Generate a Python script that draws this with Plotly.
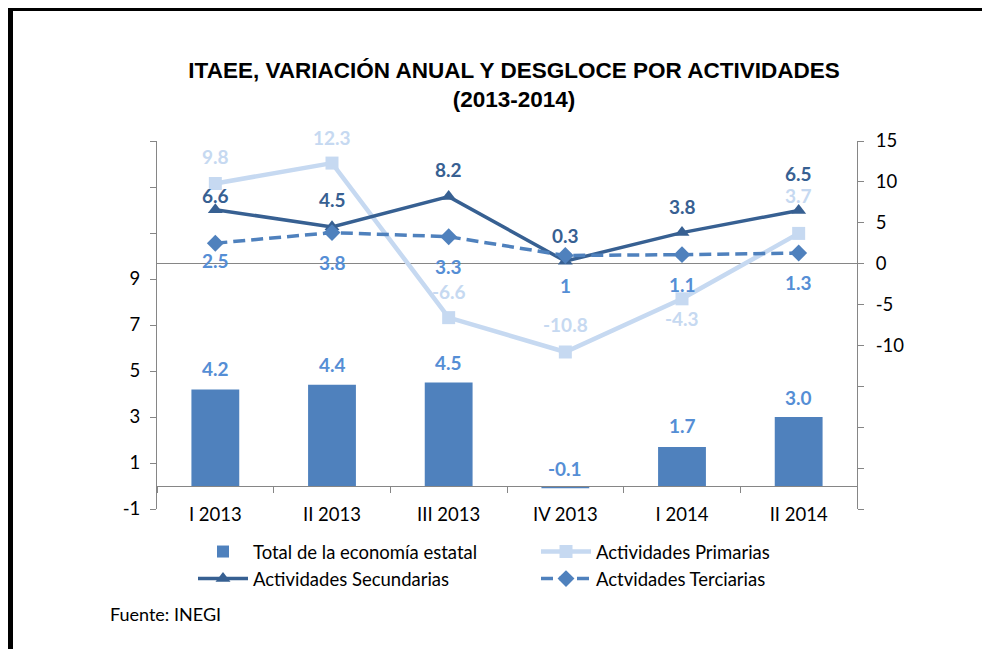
import plotly.graph_objects as go

categories = ["I 2013", "II 2013", "III 2013", "IV 2013", "I 2014", "II 2014"]
total = [4.2, 4.4, 4.5, -0.1, 1.7, 3.0]
primarias = [9.8, 12.3, -6.6, -10.8, -4.3, 3.7]
secundarias = [6.6, 4.5, 8.2, 0.3, 3.8, 6.5]
terciarias = [2.5, 3.8, 3.3, 1, 1.1, 1.3]

left_ticks = [-1, 1, 3, 5, 7, 9, 11, 13, 15]
left_labels = ["-1", "1", "3", "5", "7", "9", "", "", ""]
right_ticks = [-30, -25, -20, -15, -10, -5, 0, 5, 10, 15]
right_labels = ["", "", "", "", "-10", "-5", "0", "5", "10", "15"]

C_BAR = "#4F81BD"
C_PRI = "#C6D9F1"
C_SEC = "#376092"
C_TER = "#4F81BD"
C_LBL = "#558ED5"
AX = "#868686"
FONT = "Lato"

fig = go.Figure()
fig.add_trace(go.Bar(x=categories, y=total, name="Total de la economía estatal",
                     marker=dict(color=C_BAR, line=dict(width=0)), width=0.41, yaxis="y"))
fig.add_trace(go.Scatter(x=categories, y=primarias, name="Actividades Primarias", yaxis="y2",
                         mode="lines+markers", line=dict(color=C_PRI, width=4.5),
                         marker=dict(symbol="square", size=13, color=C_PRI)))
fig.add_trace(go.Scatter(x=categories, y=secundarias, name="Actividades Secundarias", yaxis="y2",
                         mode="lines+markers", line=dict(color=C_SEC, width=3.5),
                         marker=dict(symbol="triangle-up", size=13, color=C_SEC)))
fig.add_trace(go.Scatter(x=categories, y=terciarias, name="Actvidades Terciarias", yaxis="y2",
                         mode="lines+markers", line=dict(color=C_TER, width=3.5, dash="12px,6px"),
                         marker=dict(symbol="diamond", size=13, color=C_TER)))

# label offsets (pixels, positive = up)
off_bar = [21, 20, 20, 20, 21, 20]
off_pri = [27, 26, 26, 27, -20, 38]
off_sec = [14, 27, 27, 26, 26, 37]
off_ter = [-17, -30, -30, -30, -30, -29]

ann = []
def add_labels(vals, offs, yref, color, fmt):
    for c, v, o in zip(categories, vals, offs):
        ann.append(dict(x=c, y=v, xref="x", yref=yref, text=fmt(v), showarrow=False,
                        yshift=o, font=dict(family=FONT, size=19, color=color, weight="bold")))

add_labels(total, off_bar, "y", C_LBL, lambda v: f"{v:.1f}")
add_labels(primarias, off_pri, "y2", C_PRI, lambda v: f"{v:g}")
add_labels(secundarias, off_sec, "y2", C_SEC, lambda v: f"{v:g}")
add_labels(terciarias, off_ter, "y2", C_LBL, lambda v: f"{v:g}")

# page coordinates -> paper fractions (plot area at page x 157..857, y 141..509)
def px(x):
    return (x - 157) / 700

def py(y):
    return (509 - y) / 368

ann.append(dict(text="Fuente: INEGI", xref="paper", yref="paper", x=px(108),
                y=py(614), xanchor="left", yanchor="middle", showarrow=False,
                font=dict(family=FONT, size=18, color="black")))

shapes = [
    dict(type="line", xref="paper", yref="paper", x0=px(10), x1=px(10), y0=py(5), y1=py(660),
         line=dict(color="black", width=6)),
    dict(type="line", xref="paper", yref="paper", x0=px(7), x1=px(1000), y0=py(8), y1=py(8),
         line=dict(color="black", width=6)),
]

W, H = 982, 641
fig.update_layout(
    width=W, height=H,
    margin=dict(l=149, r=W - 849, t=133, b=H - 501),
    paper_bgcolor="white", plot_bgcolor="white",
    title=dict(text="ITAEE, VARIACIÓN ANUAL Y DESGLOCE POR ACTIVIDADES<br>(2013-2014)",
               x=(514 - 8) / W, xanchor="center", y=1 - 69.5 / H, yanchor="middle",
               font=dict(family="Liberation Sans, Arial, sans-serif", size=22.5,
                         color="black", weight="bold")),
    font=dict(family=FONT, size=18.5, color="black"),
    xaxis=dict(type="category", anchor="free", position=1 / 16, showline=True,
               linecolor=AX, linewidth=1, ticks="outside", tickson="boundaries",
               ticklen=6, tickcolor=AX, showgrid=False, tickfont=dict(size=18.5),
               ticklabelstandoff=12),
    yaxis=dict(range=[-1, 15], tickvals=left_ticks, ticktext=left_labels, showline=True,
               linecolor=AX, ticks="outside", ticklen=6, tickcolor=AX, showgrid=False,
               zeroline=False, tickfont=dict(size=18.5), ticklabelstandoff=6),
    yaxis2=dict(range=[-30, 15], overlaying="y", side="right", tickvals=right_ticks,
                ticktext=right_labels, showline=True, linecolor=AX, ticks="outside",
                ticklen=6, tickcolor=AX, showgrid=False, zeroline=True, zerolinecolor=AX,
                zerolinewidth=1, tickfont=dict(size=18.5), ticklabelstandoff=8),
    legend=dict(orientation="h", x=px(193), y=py(533), xanchor="left", yanchor="top",
                entrywidth=278, itemwidth=50, font=dict(family=FONT, size=18.5),
                tracegroupgap=0, traceorder="normal"),
    showlegend=True,
    annotations=ann,
    shapes=shapes,
    bargap=0.59,
)

fig.write_html("out.html")
